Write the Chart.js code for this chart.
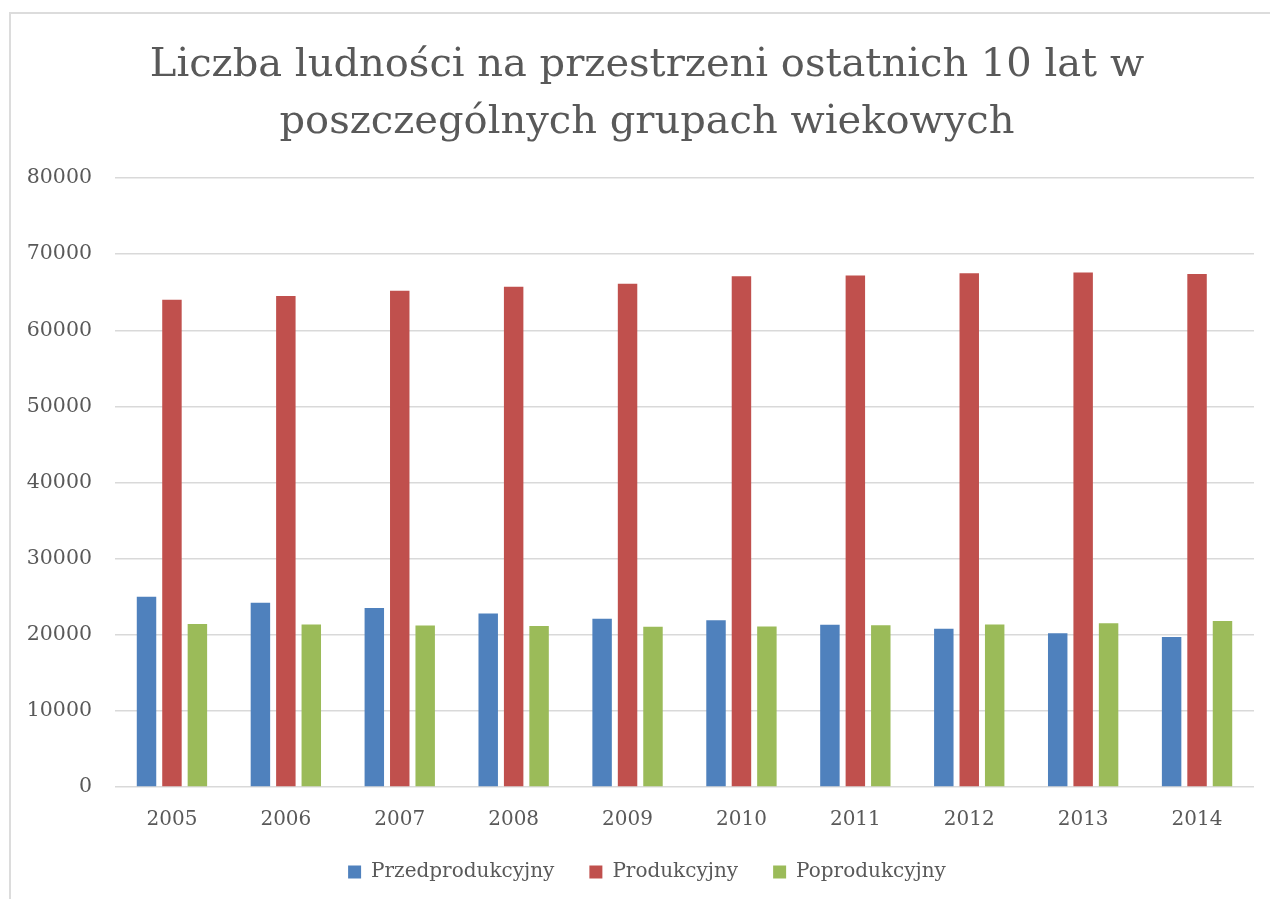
<!DOCTYPE html>
<html>
<head>
<meta charset="utf-8">
<script src="https://cdn.jsdelivr.net/npm/chart.js@4"></script>
<style>
  html, body { margin: 0; padding: 0; background: #fff; overflow: hidden; }
  #frame {
    position: absolute; left: 9px; top: 12px;
    width: 1272px; height: 900px;
    border-left: 2px solid #dcdcdc; border-top: 2px solid #dcdcdc;
  }
  canvas { display: block; }
</style>
</head>
<body>
<div id="frame"><canvas id="chart" width="1272" height="884"></canvas></div>
<script>
// lata
const years = ['2005', '2006', '2007', '2008', '2009', '2010', '2011', '2012', '2013', '2014'];

// liczba ludnosci w grupach wiekowych
const przedprodukcyjny = [25000, 24200, 23500, 22800, 22100, 21900, 21300, 20800, 20200, 19700];
const produkcyjny = [64000, 64500, 65200, 65700, 66100, 67100, 67200, 67500, 67600, 67400];
const poprodukcyjny = [21400, 21350, 21200, 21150, 21050, 21100, 21250, 21350, 21500, 21800];

const titleLines = ['Liczba ludności na przestrzeni ostatnich 10 lat w', 'poszczególnych grupach wiekowych'];

const textColor = '#595959';
const serif = 'DejaVu Serif';

const ctx = document.getElementById('chart').getContext('2d');
const chart = new Chart(ctx, {
  type: 'bar',
  data: {
    labels: years,
    datasets: [
      { label: 'Przedprodukcyjny', data: przedprodukcyjny, backgroundColor: '#4F81BD', yAxisID: 'y' },
      { label: 'Produkcyjny', data: produkcyjny, backgroundColor: '#C0504D', yAxisID: 'y' },
      { label: 'Poprodukcyjny', data: poprodukcyjny, backgroundColor: '#9BBB59', yAxisID: 'y' }
    ]
  },
  options: {
    responsive: false,
    animation: false,
    categoryPercentage: 0.67,
    barPercentage: 0.765,
    layout: { padding: { left: 0, right: 0, top: 0, bottom: 6 } },
    plugins: {
      tooltip: { enabled: false },
      title: {
        display: true,
        text: titleLines,
        color: textColor,
        font: { family: serif, size: 40, weight: 'normal', lineHeight: 1.43 },
        padding: { top: 23, bottom: 26.6 }
      },
      legend: {
        position: 'bottom',
        labels: {
          color: textColor,
          font: { family: serif, size: 20 },
          boxWidth: 13,
          boxHeight: 13,
          padding: 35
        }
      }
    },
    scales: {
      x: {
        grid: { display: false, drawTicks: false },
        border: { display: false },
        ticks: { color: textColor, font: { family: serif, size: 20 }, padding: 21 },
        afterFit: function(scale) { scale.height = 40; }
      },
      y: {
        position: 'left',
        min: 0,
        max: 80000,
        ticks: {
          stepSize: 10000,
          color: textColor,
          font: { family: serif, size: 20.5 },
          padding: 23,
          callback: function(value) { return String(value); }
        },
        grid: { color: '#d9d9d9', lineWidth: 1.5, drawTicks: false },
        border: { display: false },
        afterFit: function(scale) { scale.width = 104; }
      },
      // pusty margines po prawej stronie wykresu
      spacer: {
        type: 'linear',
        axis: 'y',
        position: 'right',
        min: 0,
        max: 80000,
        ticks: { display: false },
        grid: { display: false, drawTicks: false },
        border: { display: false },
        afterFit: function(scale) { scale.width = 29; }
      }
    }
  }
});
</script>
</body>
</html>
